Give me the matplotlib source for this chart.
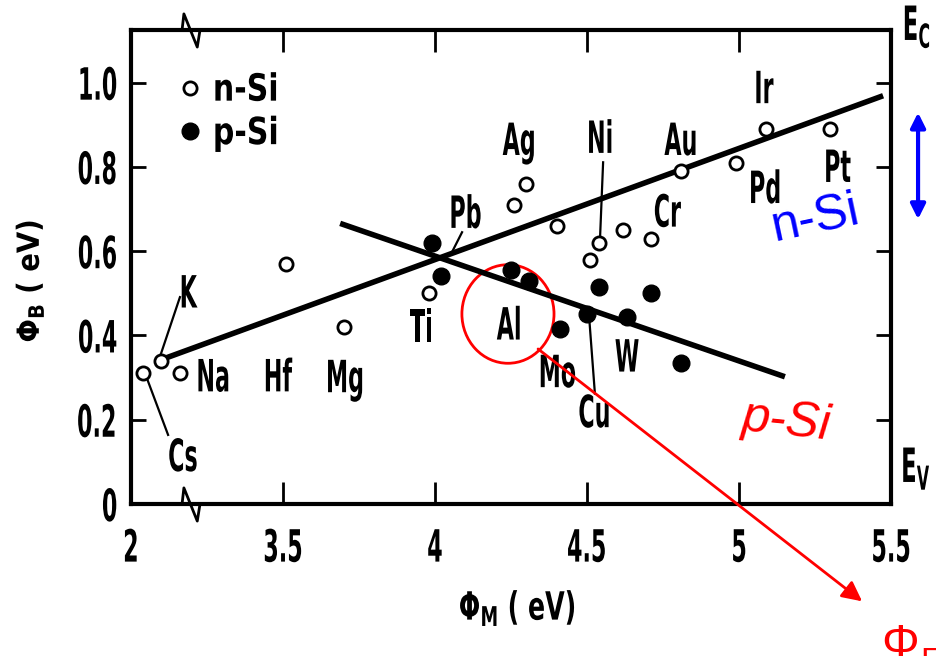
import numpy as np
import matplotlib
matplotlib.use('Agg')
import matplotlib.pyplot as plt
from matplotlib.patches import Ellipse
from matplotlib.patheffects import AbstractPathEffect
from matplotlib.transforms import Affine2D

# barrier height vs metal work function, both in eV
# n-type silicon (open circles)
n_phi_m = [2.04, 2.10, 2.16, 3.51, 3.70, 3.98, 4.26, 4.30, 4.40, 4.51, 4.54,
           4.62, 4.71, 4.81, 4.99, 5.09, 5.30]
n_phi_b = [0.31, 0.34, 0.31, 0.57, 0.42, 0.50, 0.71, 0.76, 0.66, 0.58, 0.62,
           0.65, 0.63, 0.79, 0.81, 0.89, 0.89]
# p-type silicon (filled circles)
p_phi_m = [3.99, 4.02, 4.25, 4.31, 4.41, 4.50, 4.54, 4.63, 4.71, 4.81]
p_phi_b = [0.62, 0.54, 0.555, 0.53, 0.415, 0.45, 0.515, 0.445, 0.50, 0.335]

# straight-line fits, end points
n_fit_m = [2.105, 5.474]
n_fit_b = [0.344, 0.969]
p_fit_m = [3.688, 5.151]
p_fit_b = [0.666, 0.302]

x_ticks = [2, 3.5, 4, 4.5, 5, 5.5]
x_ticklabels = ['2', '3.5', '4', '4.5', '5', '5.5']
y_ticks = [0, 0.2, 0.4, 0.6, 0.8, 1.0]
y_ticklabels = ['0', '0.2', '0.4', '0.6', '0.8', '1.0']

# metal names and where they are written
metal_labels = [
    ('Cs', 2.171, 0.108), ('K', 2.184, 0.496), ('Na', 2.270, 0.297),
    ('Hf', 3.480, 0.297), ('Mg', 3.704, 0.295), ('Ti', 3.958, 0.415),
    ('Pb', 4.099, 0.685), ('Ag', 4.280, 0.858), ('Ni', 4.543, 0.863),
    ('Au', 4.812, 0.858), ('Cr', 4.763, 0.688), ('Ir', 5.079, 0.981),
    ('Pd', 5.086, 0.744), ('Pt', 5.322, 0.794), ('Al', 4.247, 0.420),
    ('Mo', 4.401, 0.307), ('Cu', 4.526, 0.212), ('W', 4.632, 0.344),
]
# short pointer lines from a label to its point
leaders = [
    ([2.095, 2.161], [0.349, 0.491]),   # K
    ([2.053, 2.122], [0.297, 0.164]),   # Cs
    ([4.089, 4.056], [0.645, 0.598]),   # Pb
    ([4.553, 4.543], [0.811, 0.633]),   # Ni
    ([4.507, 4.526], [0.444, 0.262]),   # Cu
]


def brk(ev):
    # axis is broken: 2 eV is drawn where 3 eV would sit
    ev = np.asarray(ev, dtype=float)
    return np.where(ev < 2.5, ev + 1.0, ev)


class Narrow(AbstractPathEffect):
    """squeeze glyphs sideways to get a condensed type face"""

    def __init__(self, sx=0.53, anchor=0.5):
        super().__init__()
        self.sx = sx
        self.anchor = anchor

    def draw_path(self, renderer, gc, tpath, affine, rgbFace=None):
        ext = tpath.get_extents()
        cx = ext.x0 + self.anchor * ext.width
        squeeze = Affine2D().translate(-cx, 0).scale(self.sx, 1).translate(cx, 0)
        renderer.draw_path(gc, tpath, squeeze + affine, rgbFace)


plt.rcParams['font.family'] = 'DejaVu Sans'
plt.rcParams['font.weight'] = 'bold'
plt.rcParams['axes.labelweight'] = 'bold'

fig = plt.figure(figsize=(9.36, 6.56), dpi=100)
ax = fig.add_axes([131 / 936, 152 / 656, 760 / 936, 474 / 656])
ax.set_xlim(3.0, 5.5)
ax.set_ylim(0, 1.125)

ax.plot(brk(n_fit_m), n_fit_b, color='black', lw=4, solid_capstyle='butt')
ax.plot(brk(p_fit_m), p_fit_b, color='black', lw=4, solid_capstyle='butt')
ax.plot(brk(n_phi_m), n_phi_b, 'o', ms=9.5, mfc='white', mec='black', mew=2,
        label='n-Si', zorder=3)
ax.plot(brk(p_phi_m), p_phi_b, 'o', ms=12, color='black', label='p-Si', zorder=3)

for xs, ys in leaders:
    ax.plot(brk(xs), ys, color='black', lw=1.6)

for name, xm, yb in metal_labels:
    ax.text(float(brk(xm)), yb, name, fontsize=32, ha='center', va='center',
            path_effects=[Narrow(0.5)])

# axis break marks on top and bottom edges
zig_x = [3.168, 3.174, 3.218, 3.227]
for base in (0, 1):
    ax.plot(zig_x, [base, base + 0.034, base - 0.036, base], color='black', lw=2,
            transform=ax.get_xaxis_transform(), clip_on=False)

for sp in ax.spines.values():
    sp.set_linewidth(3)

ax.set_xticks(brk(x_ticks))
ax.set_xticklabels(x_ticklabels)
ax.set_yticks(y_ticks)
ax.set_yticklabels(y_ticklabels)
ax.tick_params(direction='in', top=True, right=True, width=2)
ax.tick_params(axis='x', length=16, pad=17, labelsize=32)
ax.tick_params(axis='y', length=11, pad=9, labelsize=32)
for lab in ax.get_xticklabels():
    lab.set_path_effects([Narrow(0.5)])
for lab in ax.get_yticklabels():
    lab.set_path_effects([Narrow(0.5, anchor=1)])

ax.set_xlabel(r'$\mathbf{\Phi}_\mathbf{M}$ ( eV)', fontsize=28, fontweight='bold',
              va='center', path_effects=[Narrow(0.65)])
ax.xaxis.set_label_coords(0.508, -0.219)
ax.set_ylabel(r'$\mathbf{\Phi}_\mathbf{B}$ ( eV)', fontsize=22, fontweight='bold',
              va='center', path_effects=[Narrow(0.9)])
ax.yaxis.set_label_coords(-0.133, 0.47)

leg = ax.legend(loc='upper left', bbox_to_anchor=(0.0625, 0.91), frameon=False,
                handlelength=0.6, handletextpad=0.3, labelspacing=0.2,
                borderpad=0, borderaxespad=0, fontsize=27, numpoints=1)
for t in leg.get_texts():
    t.set_path_effects([Narrow(0.8, anchor=0)])

# band edges on the right, squeezed towards the right edge
fig.text(931 / 936, 1 - 40 / 656, r'$\mathbf{E}_\mathbf{C}$', fontsize=34,
         va='baseline', ha='right', path_effects=[Narrow(0.48, anchor=1)])
fig.text(931 / 936, 1 - 482 / 656, r'$\mathbf{E}_\mathbf{V}$', fontsize=34,
         va='baseline', ha='right', path_effects=[Narrow(0.48, anchor=1)])
ax.annotate('', xy=(5.589, 0.929), xytext=(5.589, 0.676), annotation_clip=False,
            arrowprops=dict(arrowstyle='<|-|>', color='blue', lw=3,
                            mutation_scale=22, shrinkA=0, shrinkB=0))

ax.text(5.253, 0.676, 'n-Si', color='blue', fontsize=36, family='Liberation Sans',
        weight='normal', rotation=12, ha='center', va='center')
ax.text(5.155, 0.195, 'p-Si', color='red', fontsize=36, family='Liberation Sans',
        weight='normal', style='italic', rotation=-6, ha='center', va='center')

# aluminium highlighted, arrow runs off to the Fermi level note
ax.add_patch(Ellipse((4.240, 0.451), 0.303, 0.234, fill=False, ec='red', lw=2))
ax.annotate('', xy=(5.405, -0.231), xytext=(4.339, 0.368), annotation_clip=False,
            arrowprops=dict(arrowstyle='-|>', color='red', lw=2,
                            mutation_scale=30, shrinkA=0, shrinkB=0))
fig.text(881 / 936, -1 / 656, 'Φ', color='red', fontsize=34,
         family='Liberation Sans', weight='normal', va='baseline', ha='left')
fig.text(920 / 936, -15 / 656, 'F', color='red', fontsize=24,
         family='Liberation Sans', weight='normal', va='baseline', ha='left')

fig.savefig('out.png', dpi=100)
